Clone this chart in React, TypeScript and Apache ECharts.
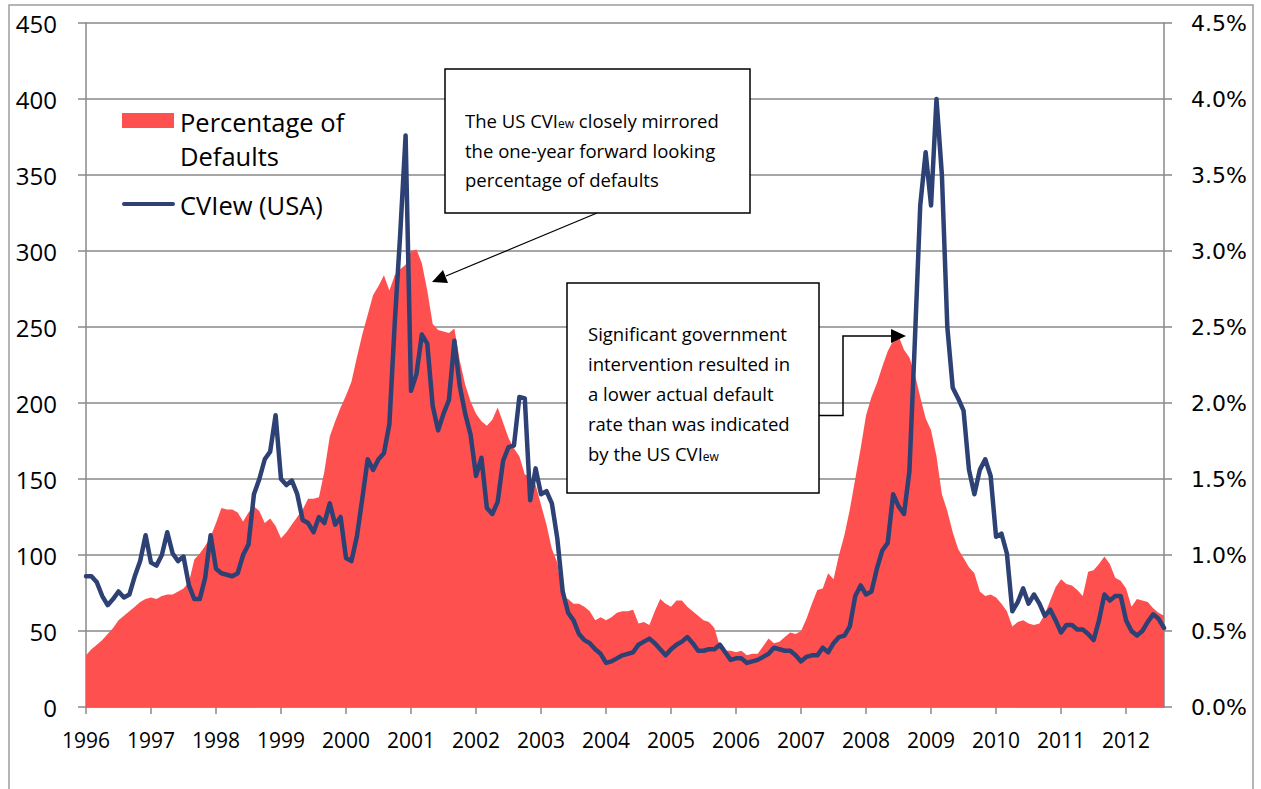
import React, { useEffect, useRef } from 'react';
import * as echarts from 'echarts';

// ---- DATA ----
const yearLabels = ['1996','1997','1998','1999','2000','2001','2002','2003','2004','2005','2006','2007','2008','2009','2010','2011','2012'];
const lastMonthOf2012 = 8; // data runs Jan 1996 .. Aug 2012

// CVIew (USA), left axis, monthly
const cviUSA = [
  86, 86, 82, 73, 67, 71, 76, 72, 74, 86, 96, 113,
  95, 93, 100, 115, 101, 96, 99, 80, 71, 71, 85, 113,
  91, 88, 87, 86, 88, 100, 107, 140, 150, 163, 168, 192,
  150, 146, 149, 140, 123, 121, 115, 125, 121, 134, 120, 125,
  98, 96, 112, 137, 163, 156, 163, 167, 186, 253, 311, 376,
  208, 219, 245, 239, 198, 182, 193, 202, 241, 211, 193, 179,
  152, 164, 131, 127, 135, 162, 171, 172, 204, 203, 136, 157,
  140, 142, 134, 111, 76, 62, 57, 48, 44, 42, 38, 35,
  29, 30, 32, 34, 35, 36, 41, 43, 45, 42, 38, 34,
  38, 41, 43, 46, 42, 37, 37, 38, 38, 41, 36, 31,
  32, 32, 29, 30, 31, 33, 35, 39, 38, 37, 37, 34,
  30, 33, 34, 34, 39, 36, 42, 46, 47, 53, 73, 80,
  74, 76, 91, 103, 108, 140, 132, 127, 155, 240, 330, 365,
  330, 400, 350, 250, 210, 203, 195, 156, 140, 156, 163, 152,
  112, 114, 101, 63, 69, 78, 68, 74, 68, 60, 64, 57,
  49, 54, 54, 51, 51, 48, 44, 57, 74, 70, 73, 73,
  57, 50, 47, 50, 56, 61, 58, 52,
];

// Percentage of Defaults (%), right axis, monthly
const pctDefaults = [
  0.34, 0.38, 0.41, 0.44, 0.48, 0.52, 0.57, 0.60, 0.63, 0.66, 0.69, 0.71,
  0.72, 0.71, 0.73, 0.74, 0.74, 0.76, 0.78, 0.82, 0.97, 1.01, 1.06, 1.12,
  1.21, 1.31, 1.30, 1.30, 1.28, 1.22, 1.28, 1.32, 1.29, 1.21, 1.24, 1.19,
  1.11, 1.15, 1.20, 1.25, 1.30, 1.37, 1.37, 1.38, 1.55, 1.78, 1.88, 1.97,
  2.05, 2.14, 2.30, 2.45, 2.58, 2.71, 2.77, 2.84, 2.74, 2.84, 2.88, 2.91,
  3.00, 3.01, 2.92, 2.74, 2.52, 2.48, 2.47, 2.46, 2.49, 2.28, 2.12, 2.01,
  1.93, 1.88, 1.85, 1.89, 1.97, 1.87, 1.77, 1.70, 1.65, 1.53, 1.52, 1.46,
  1.33, 1.20, 1.04, 0.95, 0.72, 0.71, 0.68, 0.68, 0.66, 0.63, 0.57, 0.59,
  0.57, 0.59, 0.62, 0.63, 0.63, 0.64, 0.55, 0.56, 0.54, 0.63, 0.71, 0.68,
  0.66, 0.70, 0.70, 0.66, 0.63, 0.60, 0.57, 0.56, 0.52, 0.40, 0.37, 0.37,
  0.36, 0.37, 0.34, 0.35, 0.35, 0.40, 0.45, 0.42, 0.43, 0.46, 0.49, 0.48,
  0.50, 0.58, 0.68, 0.77, 0.78, 0.88, 0.84, 1.00, 1.13, 1.30, 1.50, 1.70,
  1.92, 2.04, 2.13, 2.24, 2.34, 2.41, 2.44, 2.35, 2.30, 2.19, 2.04, 1.90,
  1.82, 1.65, 1.40, 1.29, 1.15, 1.04, 0.98, 0.92, 0.88, 0.76, 0.73, 0.74,
  0.72, 0.68, 0.63, 0.53, 0.56, 0.57, 0.55, 0.54, 0.55, 0.61, 0.70, 0.79,
  0.84, 0.81, 0.80, 0.77, 0.73, 0.89, 0.90, 0.94, 0.99, 0.94, 0.85, 0.83,
  0.78, 0.66, 0.71, 0.70, 0.69, 0.65, 0.62, 0.60,
];

// month categories built from the year labels
const categories: string[] = [];
yearLabels.forEach((y, yi) => {
  const n = yi === yearLabels.length - 1 ? lastMonthOf2012 : 12;
  for (let m = 1; m <= n; m++) categories.push(`${y}-${m < 10 ? '0' + m : m}`);
});

const RED = '#FF5050';
const BLUE = '#2D4174';
const GRID = '#888888';
const FONT = 'Open Sans';
const NOTE = 18.5;

export default function App() {
  const ref = useRef<HTMLDivElement>(null);
  useEffect(() => {
    if (!ref.current) return;
    const chart = echarts.init(ref.current, undefined, { renderer: 'svg' });
    const isYearStart = (i: number) => i % 12 === 0;
    const txt = (x: number, y: number, text: string, size = NOTE) => ({
      type: 'text', x, y, z: 110,
      style: { text, fontSize: size, fontFamily: FONT, fill: '#000', verticalAlign: 'middle', align: 'left' },
    });
    const richTxt = (x: number, y: number, before: string, after: string) => ({
      type: 'text', x, y, z: 110,
      style: {
        text: `{n|${before}}{s|ew}{n|${after}}`,
        verticalAlign: 'middle', align: 'left',
        rich: {
          n: { fontSize: NOTE, fontFamily: FONT, fill: '#000' },
          s: { fontSize: 12, fontFamily: FONT, fill: '#000', verticalAlign: 'bottom' },
        },
      },
    });
    chart.setOption({
      animation: false,
      backgroundColor: '#ffffff',
      grid: { left: 86, right: 97, top: 23, bottom: 82 },
      xAxis: {
        type: 'category',
        data: categories,
        boundaryGap: false,
        axisLine: { show: true, lineStyle: { color: GRID, width: 1.5 } },
        axisTick: { show: true, interval: (i: number) => isYearStart(i), length: 7, lineStyle: { color: GRID, width: 1.5 } },
        axisLabel: {
          interval: (i: number) => isYearStart(i),
          formatter: (v: string) => v.slice(0, 4),
          fontSize: 21, fontFamily: FONT, color: '#000', margin: 22,
        },
        splitLine: { show: false },
      },
      yAxis: [
        {
          type: 'value', min: 0, max: 450, interval: 50, position: 'left',
          axisLine: { show: true, lineStyle: { color: GRID, width: 1.5 } },
          axisTick: { show: true, length: 8, lineStyle: { color: GRID, width: 1.5 } },
          axisLabel: { fontSize: 24, fontFamily: FONT, color: '#000', margin: 29 },
          splitLine: { show: true, lineStyle: { color: GRID, width: 1.5 } },
        },
        {
          type: 'value', min: 0, max: 4.5, interval: 0.5, position: 'right',
          axisLine: { show: true, lineStyle: { color: GRID, width: 1.5 } },
          axisTick: { show: true, length: 8, lineStyle: { color: GRID, width: 1.5 } },
          axisLabel: { fontSize: 22, fontFamily: 'DejaVu Sans', color: '#000', margin: 27, formatter: (v: number) => v.toFixed(1) + '%' },
          splitLine: { show: false },
        },
      ],
      series: [
        {
          name: 'Percentage of Defaults', type: 'line', yAxisIndex: 1, data: pctDefaults,
          showSymbol: false, symbol: 'none', lineStyle: { width: 0 },
          areaStyle: { color: RED, opacity: 1 }, z: 2,
        },
        {
          name: 'CVIew (USA)', type: 'line', yAxisIndex: 0, data: cviUSA,
          showSymbol: false, symbol: 'none',
          lineStyle: { color: BLUE, width: 4.5, join: 'round', cap: 'round' }, z: 3,
        },
      ],
      graphic: [
        { type: 'rect', silent: true, z: 1, shape: { x: 9, y: 5, width: 1244, height: 820 }, style: { fill: 'none', stroke: '#9d9d9d', lineWidth: 1.5 } },
        // legend
        { type: 'rect', z: 110, shape: { x: 122, y: 113, width: 52, height: 15 }, style: { fill: RED } },
        txt(180, 122, 'Percentage of', 25.5),
        txt(180, 156, 'Defaults', 25.5),
        { type: 'line', z: 110, shape: { x1: 124, y1: 204, x2: 173, y2: 204 }, style: { stroke: BLUE, lineWidth: 4, lineCap: 'round' } },
        txt(180, 205, 'CVIew (USA)', 25.5),
        // annotation 1
        { type: 'rect', z: 100, shape: { x: 445, y: 69, width: 305, height: 144 }, style: { fill: '#fff', stroke: '#000', lineWidth: 1.5 } },
        richTxt(465, 120, 'The US CVI', ' closely mirrored'),
        txt(465, 150, 'the one-year forward looking'),
        txt(465, 179, 'percentage of defaults'),
        { type: 'line', z: 100, shape: { x1: 597, y1: 213, x2: 446, y2: 276 }, style: { stroke: '#000', lineWidth: 1.2 } },
        { type: 'polygon', z: 100, shape: { points: [[432, 282], [448, 283], [443, 270]] }, style: { fill: '#000' } },
        // annotation 2
        { type: 'rect', z: 100, shape: { x: 567, y: 283, width: 252, height: 210 }, style: { fill: '#fff', stroke: '#000', lineWidth: 1.5 } },
        txt(588, 333, 'Significant government'),
        txt(588, 363, 'intervention resulted in'),
        txt(588, 393, 'a lower actual default'),
        txt(588, 423, 'rate than was indicated'),
        richTxt(588, 453, 'by the US CVI', ''),
        { type: 'polyline', z: 100, shape: { points: [[819, 415.5], [843, 415.5], [843, 336], [892, 336]] }, style: { stroke: '#000', lineWidth: 1.5, fill: 'none' } },
        { type: 'polygon', z: 100, shape: { points: [[906, 336], [891, 329], [891, 343]] }, style: { fill: '#000' } },
      ],
    });
    return () => chart.dispose();
  }, []);
  return (
    <div
      ref={ref}
      style={{ position: 'fixed', left: 0, top: 0, width: 1261, height: 789, background: '#fff' }}
    />
  );
}
